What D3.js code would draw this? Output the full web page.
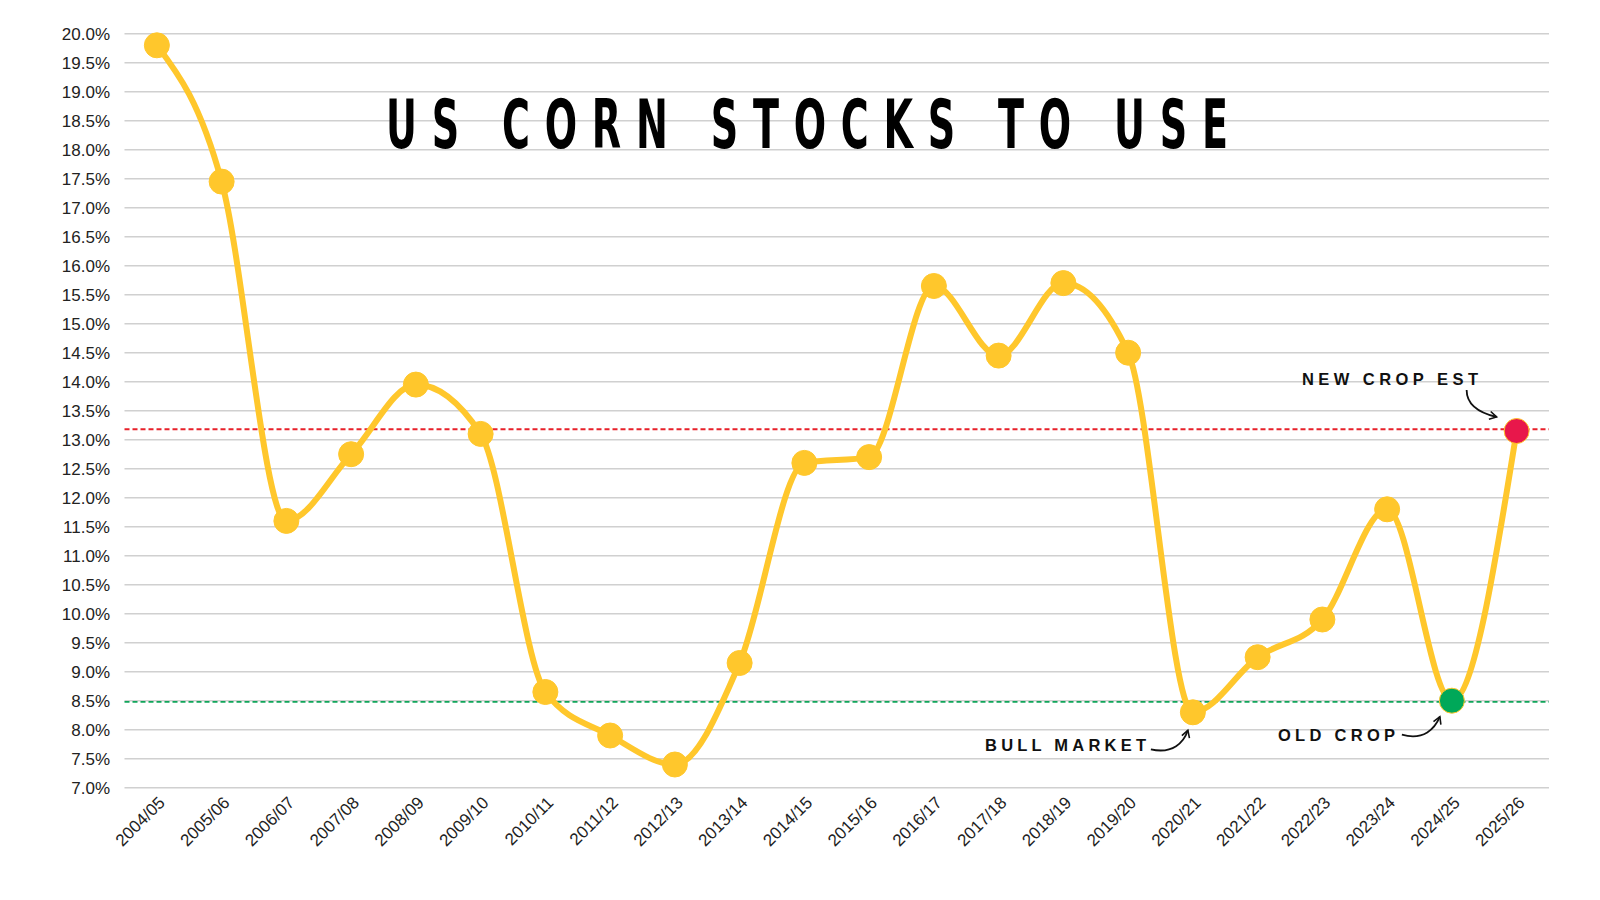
<!DOCTYPE html>
<html>
<head>
<meta charset="utf-8">
<script src="https://cdn.jsdelivr.net/npm/d3@7"></script>
<style>
  body { margin: 0; background: #fff; overflow: hidden; }
  text { font-family: "Liberation Sans", Arial, sans-serif; }
</style>
</head>
<body>
<div id="chart"></div>
<script>
var seasons = ["2004/05", "2005/06", "2006/07", "2007/08", "2008/09", "2009/10", "2010/11",
  "2011/12", "2012/13", "2013/14", "2014/15", "2015/16", "2016/17", "2017/18", "2018/19",
  "2019/20", "2020/21", "2021/22", "2022/23", "2023/24", "2024/25", "2025/26"];
var stocksToUse = [19.8, 17.45, 11.6, 12.75, 13.95, 13.1, 8.65, 7.9, 7.4, 9.15, 12.6, 12.7,
  15.65, 14.45, 15.7, 14.5, 8.3, 9.25, 9.9, 11.8, 8.5, 13.15];
var yTicks = [7, 7.5, 8, 8.5, 9, 9.5, 10, 10.5, 11, 11.5, 12, 12.5, 13, 13.5, 14, 14.5,
  15, 15.5, 16, 16.5, 17, 17.5, 18, 18.5, 19, 19.5, 20];
var newCropLine = 13.18;
var oldCropLine = 8.48;

var width = 1600, height = 900;
var plotLeft = 124.5, plotRight = 1549, plotTop = 33.7, plotBottom = 787.7;

var svg = d3.select("#chart").append("svg")
  .attr("width", width)
  .attr("height", height)
  .style("display", "block");

var x = d3.scalePoint()
  .domain(seasons)
  .range([plotLeft, plotRight])
  .padding(0.5);

var y = d3.scaleLinear()
  .domain([7, 20])
  .range([plotBottom, plotTop]);

// gridlines
svg.append("g")
  .selectAll("line")
  .data(yTicks)
  .enter().append("line")
  .attr("x1", plotLeft).attr("x2", plotRight)
  .attr("y1", function(d) { return y(d); })
  .attr("y2", function(d) { return y(d); })
  .attr("stroke", "#d0d0d0")
  .attr("stroke-width", 1.5);

// y labels
svg.append("g")
  .selectAll("text")
  .data(yTicks)
  .enter().append("text")
  .attr("x", 110)
  .attr("y", function(d) { return y(d) + 6; })
  .attr("text-anchor", "end")
  .attr("font-size", 17)
  .attr("fill", "#222")
  .text(function(d) { return d.toFixed(1) + "%"; });

// x labels
svg.append("g")
  .selectAll("text")
  .data(seasons)
  .enter().append("text")
  .attr("text-anchor", "end")
  .attr("font-size", 17)
  .attr("fill", "#222")
  .attr("transform", function(d) {
    return "translate(" + (x(d) + 9) + "," + (plotBottom + 16) + ") rotate(-45)";
  })
  .text(function(d) { return d; });

// reference lines
svg.append("line")
  .attr("x1", plotLeft).attr("x2", plotRight)
  .attr("y1", y(newCropLine)).attr("y2", y(newCropLine))
  .attr("stroke", "#e8202a").attr("stroke-width", 1.8)
  .attr("stroke-dasharray", "5,3");
svg.append("line")
  .attr("x1", plotLeft).attr("x2", plotRight)
  .attr("y1", y(oldCropLine)).attr("y2", y(oldCropLine))
  .attr("stroke", "#10a55a").attr("stroke-width", 1.8)
  .attr("stroke-dasharray", "5,3");

// title, squeezed horizontally to look like a condensed display face
var squeeze = 0.56;
svg.append("text")
  .attr("transform", "translate(386,148) scale(" + squeeze + ",1)")
  .attr("font-weight", "bold")
  .attr("font-size", 68)
  .attr("textLength", 842 / squeeze)
  .attr("lengthAdjust", "spacing")
  .attr("fill", "#000")
  .style("font-family", "'DejaVu Sans', sans-serif")
  .text("US CORN STOCKS TO USE");

// smoothed line
var line = d3.line()
  .x(function(d, i) { return x(seasons[i]); })
  .y(function(d) { return y(d); })
  .curve(d3.curveMonotoneX);

svg.append("path")
  .datum(stocksToUse)
  .attr("d", line)
  .attr("fill", "none")
  .attr("stroke", "#ffc72c")
  .attr("stroke-width", 6)
  .attr("stroke-linejoin", "round");

svg.append("g")
  .selectAll("circle")
  .data(stocksToUse)
  .enter().append("circle")
  .attr("cx", function(d, i) { return x(seasons[i]); })
  .attr("cy", function(d) { return y(d); })
  .attr("r", 12.5)
  .attr("fill", function(d, i) {
    if (i == seasons.length - 1) return "#e8174b";
    if (i == seasons.length - 2) return "#00a859";
    return "#ffc72c";
  })
  .attr("stroke", "#ffc72c")
  .attr("stroke-width", 1);

// annotations
svg.append("defs").append("marker")
  .attr("id", "arrow")
  .attr("viewBox", "0 0 10 10")
  .attr("refX", 8).attr("refY", 5)
  .attr("markerWidth", 10).attr("markerHeight", 10)
  .attr("markerUnits", "userSpaceOnUse")
  .attr("orient", "auto")
  .append("path")
  .attr("d", "M1,1 L8,5 L1,9")
  .attr("fill", "none")
  .attr("stroke", "#111")
  .attr("stroke-width", 1.6);

function note(label, tx, ty, len, path) {
  svg.append("text")
    .attr("x", tx).attr("y", ty)
    .attr("font-size", 16.5)
    .attr("font-weight", "bold")
    .attr("textLength", len)
    .attr("lengthAdjust", "spacing")
    .attr("fill", "#111")
    .text(label);
  svg.append("path")
    .attr("d", path)
    .attr("fill", "none")
    .attr("stroke", "#111")
    .attr("stroke-width", 1.8)
    .attr("marker-end", "url(#arrow)");
}

var nx = x("2025/26"), ny = y(stocksToUse[21]);
note("NEW CROP EST", 1302, 385, 176,
  "M" + (nx - 50) + "," + (ny - 41) + " C" + (nx - 50) + "," + (ny - 26) + " " +
  (nx - 37) + "," + (ny - 18) + " " + (nx - 20) + "," + (ny - 14));
var bx = x("2020/21"), by = y(stocksToUse[16]);
note("BULL MARKET", 985, 751, 161,
  "M" + (bx - 42) + "," + (by + 37) + " C" + (bx - 20) + "," + (by + 42) + " " +
  (bx - 9) + "," + (by + 30) + " " + (bx - 5) + "," + (by + 18));
var ox = x("2024/25"), oy = y(stocksToUse[20]);
note("OLD CROP", 1278, 741, 117,
  "M" + (ox - 50) + "," + (oy + 34) + " C" + (ox - 28) + "," + (oy + 40) + " " +
  (ox - 17) + "," + (oy + 28) + " " + (ox - 12) + "," + (oy + 16));
</script>
</body>
</html>
